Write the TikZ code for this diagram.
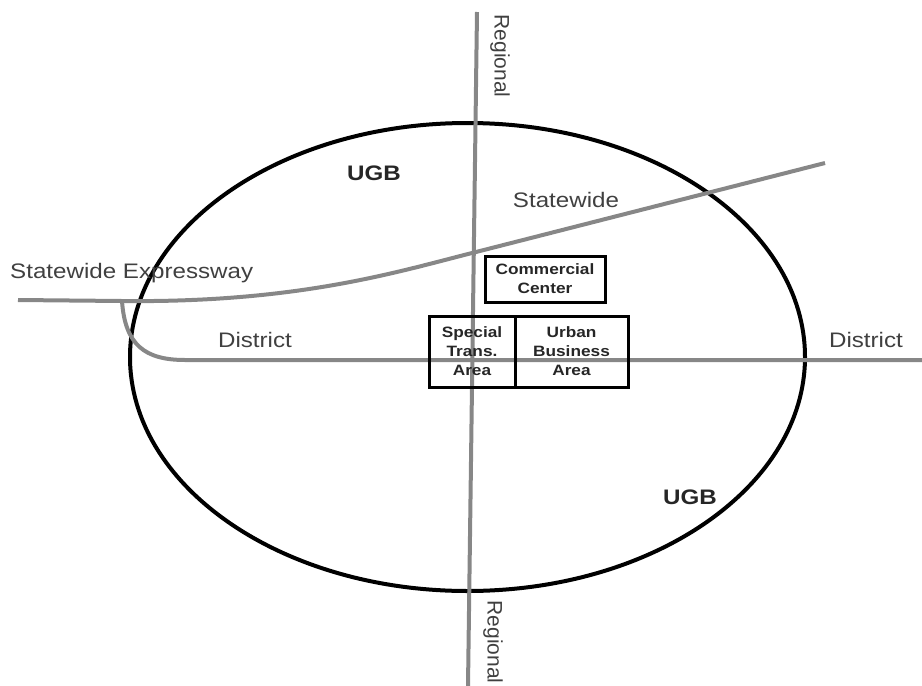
\documentclass[tikz,border=0pt]{standalone}
\usepackage{fontspec}
\usepackage{graphicx}
\usetikzlibrary{shapes.geometric}
\setmainfont{Liberation Sans}
\newcommand\wide[1]{\scalebox{1.15}[1]{#1}}
\begin{document}
\begin{tikzpicture}[x=1pt,y=-1pt,
  road/.style={draw=black!47,line width=4pt},
  ring/.style={draw=black,line width=4pt},
  lbl/.style={font=\fontsize{21}{23}\selectfont,text=black!75,inner sep=0pt},
  ugb/.style={font=\fontsize{21}{23}\selectfont\bfseries,text=black!85,inner sep=0pt},
  area/.style={draw=black,line width=3pt,font=\fontsize{15}{19}\selectfont\bfseries,align=center,inner sep=0pt,text=black!85}]
\useasboundingbox (0,0) rectangle (922,686);
% ellipse (UGB)
\node[ring,ellipse,minimum width=675pt,minimum height=468pt,inner sep=0pt] (ugbring) at (467.5,357) {};
% road end points
\coordinate (regT) at (477,12);
\coordinate (regB) at (468,686);
\coordinate (expL) at (18,300);
\coordinate (expR) at (825,163);
\coordinate (disR) at (922,360);
% regional
\draw[road] (regT) -- (regB);
% statewide expressway
\draw[road] (expL) -- (122,301) .. controls (300,303) and (400,271) .. (476,252) -- (expR);
% district
\draw[road] (122,301) .. controls (125,345) and (145,360) .. (185,360) -- (disR);
% boxes
\node[area,minimum width=120pt,minimum height=46pt] (cc) at (545,279) {\wide{Commercial}\\\wide{Center}};
\node[area,minimum width=86pt,minimum height=71pt] (sta) at (472,351.5) {\wide{Special}\\\wide{Trans.}\\\wide{Area}};
\node[area,minimum width=113pt,minimum height=71pt] (uba) at (571.5,351.5) {\wide{Urban}\\\wide{Business}\\\wide{Area}};
% labels
\node[lbl,anchor=west] (lexp) at (10,273) {\wide{Statewide Expressway}};
\node[lbl] (lsw) at (566,200) {\wide{Statewide}};
\node[lbl] (ldl) at (255,340) {\wide{District}};
\node[lbl] (ldr) at (866,340) {\wide{District}};
\node[lbl,rotate=-90] (lrt) at (500,56) {Regional};
\node[lbl,rotate=-90] (lrb) at (493,642) {Regional};
\node[ugb] (u1) at (374,173) {\wide{UGB}};
\node[ugb] (u2) at (690,497) {\wide{UGB}};
\end{tikzpicture}
\end{document}
